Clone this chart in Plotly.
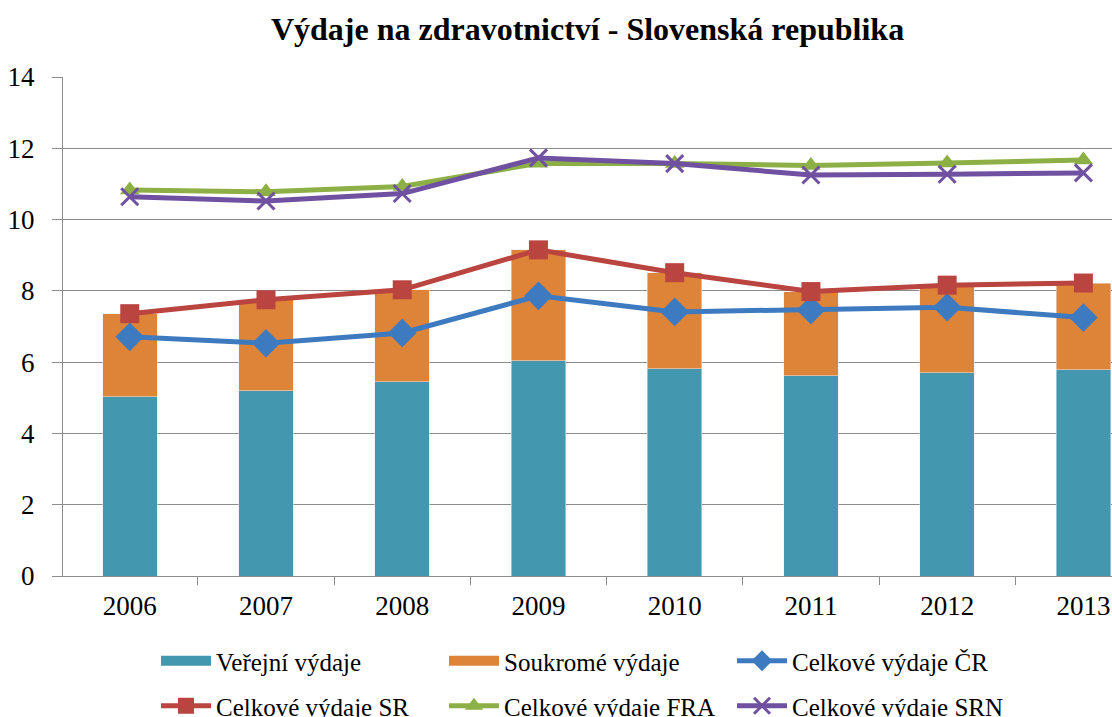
import plotly.graph_objects as go

years = ["2006", "2007", "2008", "2009", "2010", "2011", "2012", "2013"]
verejne = [5.03, 5.20, 5.45, 6.04, 5.81, 5.62, 5.70, 5.79]
celkove_sr = [7.36, 7.75, 8.03, 9.15, 8.51, 7.98, 8.16, 8.22]
soukrome = [round(t - v, 2) for t, v in zip(celkove_sr, verejne)]
celkove_cr = [6.71, 6.53, 6.82, 7.86, 7.41, 7.46, 7.54, 7.25]
celkove_fra = [10.83, 10.78, 10.93, 11.58, 11.57, 11.52, 11.59, 11.67]
celkove_srn = [10.64, 10.52, 10.73, 11.73, 11.57, 11.25, 11.27, 11.31]

title_text = "Výdaje na zdravotnictví - Slovenská republika"
name_ver = "Veřejní výdaje"
name_souk = "Soukromé výdaje"

C_TEAL = "#4397AE"
C_ORANGE = "#DE8439"
C_BLUE = "#3E7AC0"
C_RED = "#BA4540"
C_GREEN = "#8DB046"
C_PURPLE = "#7050A0"

FONT = "Liberation Serif"

fig = go.Figure()
fig.add_trace(go.Bar(x=years, y=verejne, name=name_ver, marker_color=C_TEAL,
                     width=0.4, showlegend=False, legendgroup="ver"))
fig.add_trace(go.Bar(x=years, y=soukrome, name=name_souk, marker_color=C_ORANGE,
                     width=0.4, showlegend=False, legendgroup="souk"))
# legend-only swatches drawn as wide rectangles (like the original legend keys)
fig.add_trace(go.Scatter(x=[None], y=[None], name=name_ver, mode="lines",
                         line=dict(color=C_TEAL, width=18), legend="legend",
                         legendgroup="ver", hoverinfo="skip"))
fig.add_trace(go.Scatter(x=[None], y=[None], name=name_souk, mode="lines",
                         line=dict(color=C_ORANGE, width=18), legend="legend",
                         legendgroup="souk", hoverinfo="skip"))
fig.add_trace(go.Scatter(x=years, y=celkove_cr, name="Celkové výdaje ČR", mode="lines+markers",
                         line=dict(color=C_BLUE, width=5),
                         marker=dict(symbol="diamond", size=22, color=C_BLUE),
                         legend="legend"))
fig.add_trace(go.Scatter(x=years, y=celkove_sr, name="Celkové výdaje SR", mode="lines+markers",
                         line=dict(color=C_RED, width=5),
                         marker=dict(symbol="square", size=19, color=C_RED),
                         legend="legend2"))
fig.add_trace(go.Scatter(x=years, y=celkove_fra, name="Celkové výdaje FRA", mode="lines+markers",
                         line=dict(color=C_GREEN, width=5),
                         marker=dict(symbol="triangle-up", size=17, color=C_GREEN),
                         legend="legend2"))
fig.add_trace(go.Scatter(x=years, y=celkove_srn, name="Celkové výdaje SRN", mode="lines+markers",
                         line=dict(color=C_PURPLE, width=5),
                         marker=dict(symbol="x-thin", size=17, color=C_PURPLE,
                                     line=dict(color=C_PURPLE, width=3)),
                         legend="legend2"))

L, R, T, B = 63, 0, 77, 141
W, H = 1112, 717

legend_common = dict(
    orientation="h",
    font=dict(family=FONT, size=25, color="#000000"),
    entrywidth=223,
    entrywidthmode="pixels",
    itemwidth=50,
    xref="container",
    yref="container",
    xanchor="left",
    yanchor="middle",
    bgcolor="rgba(0,0,0,0)",
    traceorder="normal",
)

fig.update_layout(
    width=W, height=H,
    margin=dict(l=L, r=R, t=T, b=B, autoexpand=False),
    paper_bgcolor="white",
    plot_bgcolor="white",
    barmode="stack",
    title=dict(text="<b>" + title_text + "</b>", x=0.5, xref="paper", xanchor="center",
               y=1 - 29 / H, yanchor="middle",
               font=dict(family=FONT, size=32, color="#000000")),
    font=dict(family=FONT, size=24, color="#000000"),
    showlegend=True,
    legend=dict(**legend_common, x=156 / W, y=(H - 661) / H),
    legend2=dict(**legend_common, x=156 / W, y=(H - 706) / H),
    xaxis=dict(
        type="category",
        range=[-0.49, 7.21],
        automargin=False,
        showgrid=False,
        showline=True, linecolor="#8C8C8C", linewidth=1,
        ticks="outside", tickson="boundaries", ticklen=8, tickcolor="#8C8C8C",
        ticklabelstandoff=6,
        tickfont=dict(family=FONT, size=27, color="#000000"),
    ),
    yaxis=dict(
        range=[0, 14],
        dtick=2,
        automargin=False,
        showgrid=True, gridcolor="#8C8C8C", gridwidth=1,
        showline=True, linecolor="#8C8C8C", linewidth=1,
        ticks="outside", ticklen=10, tickcolor="#8C8C8C",
        ticklabelstandoff=12,
        tickfont=dict(family=FONT, size=27, color="#000000"),
        zeroline=False,
    ),
)

fig.write_html("out.html", config={"displayModeBar": False},
               post_script="document.body.style.margin='0';")
